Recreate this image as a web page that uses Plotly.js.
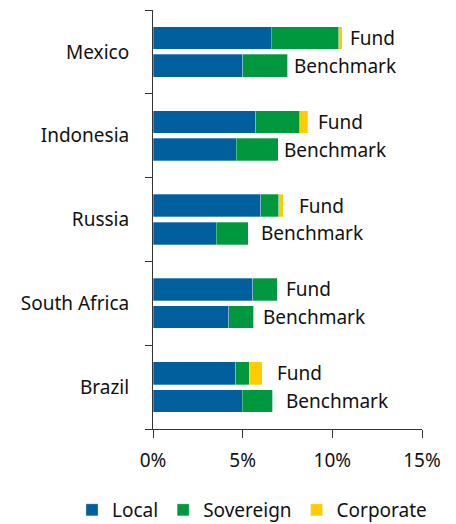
<!DOCTYPE html>
<html>
<head>
<meta charset="utf-8">
<script src="https://cdn.plot.ly/plotly-3.0.1.min.js"></script>
<style>html,body{margin:0;padding:0;background:#fff;}#chart{width:456px;height:524px;}</style>
</head>
<body>
<div id="chart"></div>
<script>
// Categories, top to bottom
const countries = ['Mexico', 'Indonesia', 'Russia', 'South Africa', 'Brazil'];
// Fund allocations (%)
const fundLocal = [6.6, 5.73, 6.0, 5.56, 4.61];
const fundSovereign = [3.75, 2.44, 1.02, 1.38, 0.76];
const fundCorporate = [0.2, 0.47, 0.25, 0, 0.73];
// Benchmark allocations (%)
const benchLocal = [5.0, 4.64, 3.53, 4.22, 4.98];
const benchSovereign = [2.52, 2.34, 1.79, 1.41, 1.7];
const benchCorporate = [0, 0, 0, 0, 0];
const seriesNames = ['Local', 'Sovereign', 'Corporate'];
const rowLabels = ['Fund', 'Benchmark'];
const xTicks = [0, 5, 10, 15];

// layout helpers (not data)
const colors = ['#005f9c', '#00983f', '#ffcc00'];
const barOffset = 0.165;
const labelShift = {Fund: [6, 8, 14, 7, 13], Benchmark: [4, 4, 11, 7, 11]};
const font = {family: 'Noto Sans, Open Sans, sans-serif', size: 19, color: '#111'};

const idx = countries.map((_, i) => i);
const yFund = idx.map(i => i - barOffset);
const yBench = idx.map(i => i + barOffset);
const yAll = yFund.concat(yBench);

const fundSeries = [fundLocal, fundSovereign, fundCorporate];
const benchSeries = [benchLocal, benchSovereign, benchCorporate];

const traces = seriesNames.map((name, s) => ({
  type: 'bar',
  orientation: 'h',
  name: name,
  x: fundSeries[s].concat(benchSeries[s]),
  y: yAll,
  width: 0.27,
  marker: {color: colors[s], line: {color: 'rgba(255,255,255,0.5)', width: 0.6}},
  hoverinfo: 'x+name'
}));

const annotations = [];
idx.forEach(i => {
  const fTot = fundLocal[i] + fundSovereign[i] + fundCorporate[i];
  const bTot = benchLocal[i] + benchSovereign[i] + benchCorporate[i];
  annotations.push({x: fTot, y: yFund[i], xref: 'x', yref: 'y', text: rowLabels[0],
    showarrow: false, xanchor: 'left', yanchor: 'middle', xshift: labelShift.Fund[i], font: font});
  annotations.push({x: bTot, y: yBench[i], xref: 'x', yref: 'y', text: rowLabels[1],
    showarrow: false, xanchor: 'left', yanchor: 'middle', xshift: labelShift.Benchmark[i], font: font});
});

const boundaries = [];
for (let i = 0; i <= countries.length; i++) boundaries.push(i - 0.5);

const plotW = 456 - 153 - 34, plotH = 524 - 10 - 95;

const layout = {
  width: 456, height: 524,
  margin: {l: 153, r: 34, t: 10, b: 95, autoexpand: false},
  paper_bgcolor: '#fff', plot_bgcolor: '#fff',
  barmode: 'stack',
  font: font,
  showlegend: true,
  xaxis: {
    range: [0, 15], tickvals: xTicks, ticktext: xTicks.map(v => v + '%'),
    ticks: 'outside', ticklen: 8, tickcolor: '#333', tickwidth: 1,
    ticklabelstandoff: 6,
    showline: true, linecolor: '#333', linewidth: 1,
    showgrid: false, zeroline: false, fixedrange: true,
    tickfont: font
  },
  yaxis: {
    range: [countries.length - 0.5, -0.5],
    tickvals: idx, ticktext: countries,
    ticks: 'outside', ticklen: 19, tickcolor: 'rgba(0,0,0,0)',
    minor: {tickvals: boundaries, ticks: 'outside', ticklen: 7, tickcolor: '#333', tickwidth: 1, showgrid: false},
    showline: true, linecolor: '#333', linewidth: 1,
    showgrid: false, zeroline: false, fixedrange: true,
    tickfont: font
  },
  legend: {
    orientation: 'h',
    x: (72 - 153) / plotW, xanchor: 'left',
    y: -(510 - (10 + plotH)) / plotH, yanchor: 'middle',
    font: font, traceorder: 'normal'
  },
  annotations: annotations
};

Plotly.newPlot('chart', traces, layout, {displayModeBar: false, staticPlot: true});
</script>
</body>
</html>
